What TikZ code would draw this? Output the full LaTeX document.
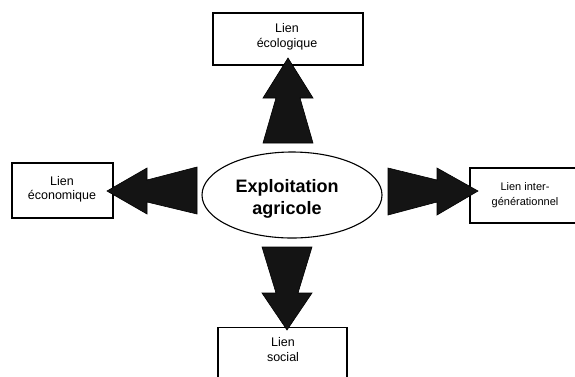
\documentclass[tikz,border=0pt]{standalone}
\usepackage{fontspec}
\setmainfont{Liberation Sans}
\usetikzlibrary{shapes.geometric}
\begin{document}
\begin{tikzpicture}[x=1pt,y=-1pt,
  lienbox/.style={draw=black,line width=1.1pt,fill=white,inner sep=0pt,align=center,
    font=\fontsize{12.5}{15}\selectfont},
  blockarrow/.style={fill=black!92,draw=black,line width=0.6pt,line join=miter}]
\useasboundingbox (0,0) rectangle (575,376);
% centre
\node[draw=black,line width=1.1pt,ellipse,minimum width=180pt,minimum height=86pt] (ea) at (292,195) {};
\node[align=center,font=\fontsize{18}{22}\selectfont\bfseries] (eat) at (287,199) {Exploitation\\agricole};
% boxes
\node[lienbox,minimum width=150pt,minimum height=52pt] (eco) at (288,39) {};
\node[align=center,font=\fontsize{12.5}{15}\selectfont] (ecot) at (287,37) {Lien\\écologique};
\node[lienbox,minimum width=101pt,minimum height=55pt] (econ) at (62.5,190.5) {};
\node[align=center,font=\fontsize{12.5}{14}\selectfont] (econt) at (62,189) {Lien\\économique};
\node[lienbox,minimum width=110pt,minimum height=55pt,font=\fontsize{11}{15}\selectfont] (gen) at (525,195.5) {Lien inter-\\générationnel};
\node[lienbox,minimum width=129pt,minimum height=60pt,anchor=north] (soc) at (282.5,327) {};
\node[font=\fontsize{12.5}{15}\selectfont,align=center] (soct) at (283,350) {Lien\\social};
% block arrows
\draw[blockarrow] (288,58) -- (313,98) -- (300,98) -- (313,143) -- (263,143) -- (276,98) -- (263,98) -- cycle;
\draw[blockarrow] (287,330) -- (312,293) -- (298,293) -- (312,247) -- (262,247) -- (276,293) -- (262,293) -- cycle;
\draw[blockarrow] (107,191) -- (147,168) -- (147,180) -- (197,167) -- (197,214) -- (147,202) -- (147,214) -- cycle;
\draw[blockarrow] (478,191) -- (437,168) -- (437,180) -- (388,168) -- (388,215) -- (437,202) -- (437,215) -- cycle;
\end{tikzpicture}
\end{document}
